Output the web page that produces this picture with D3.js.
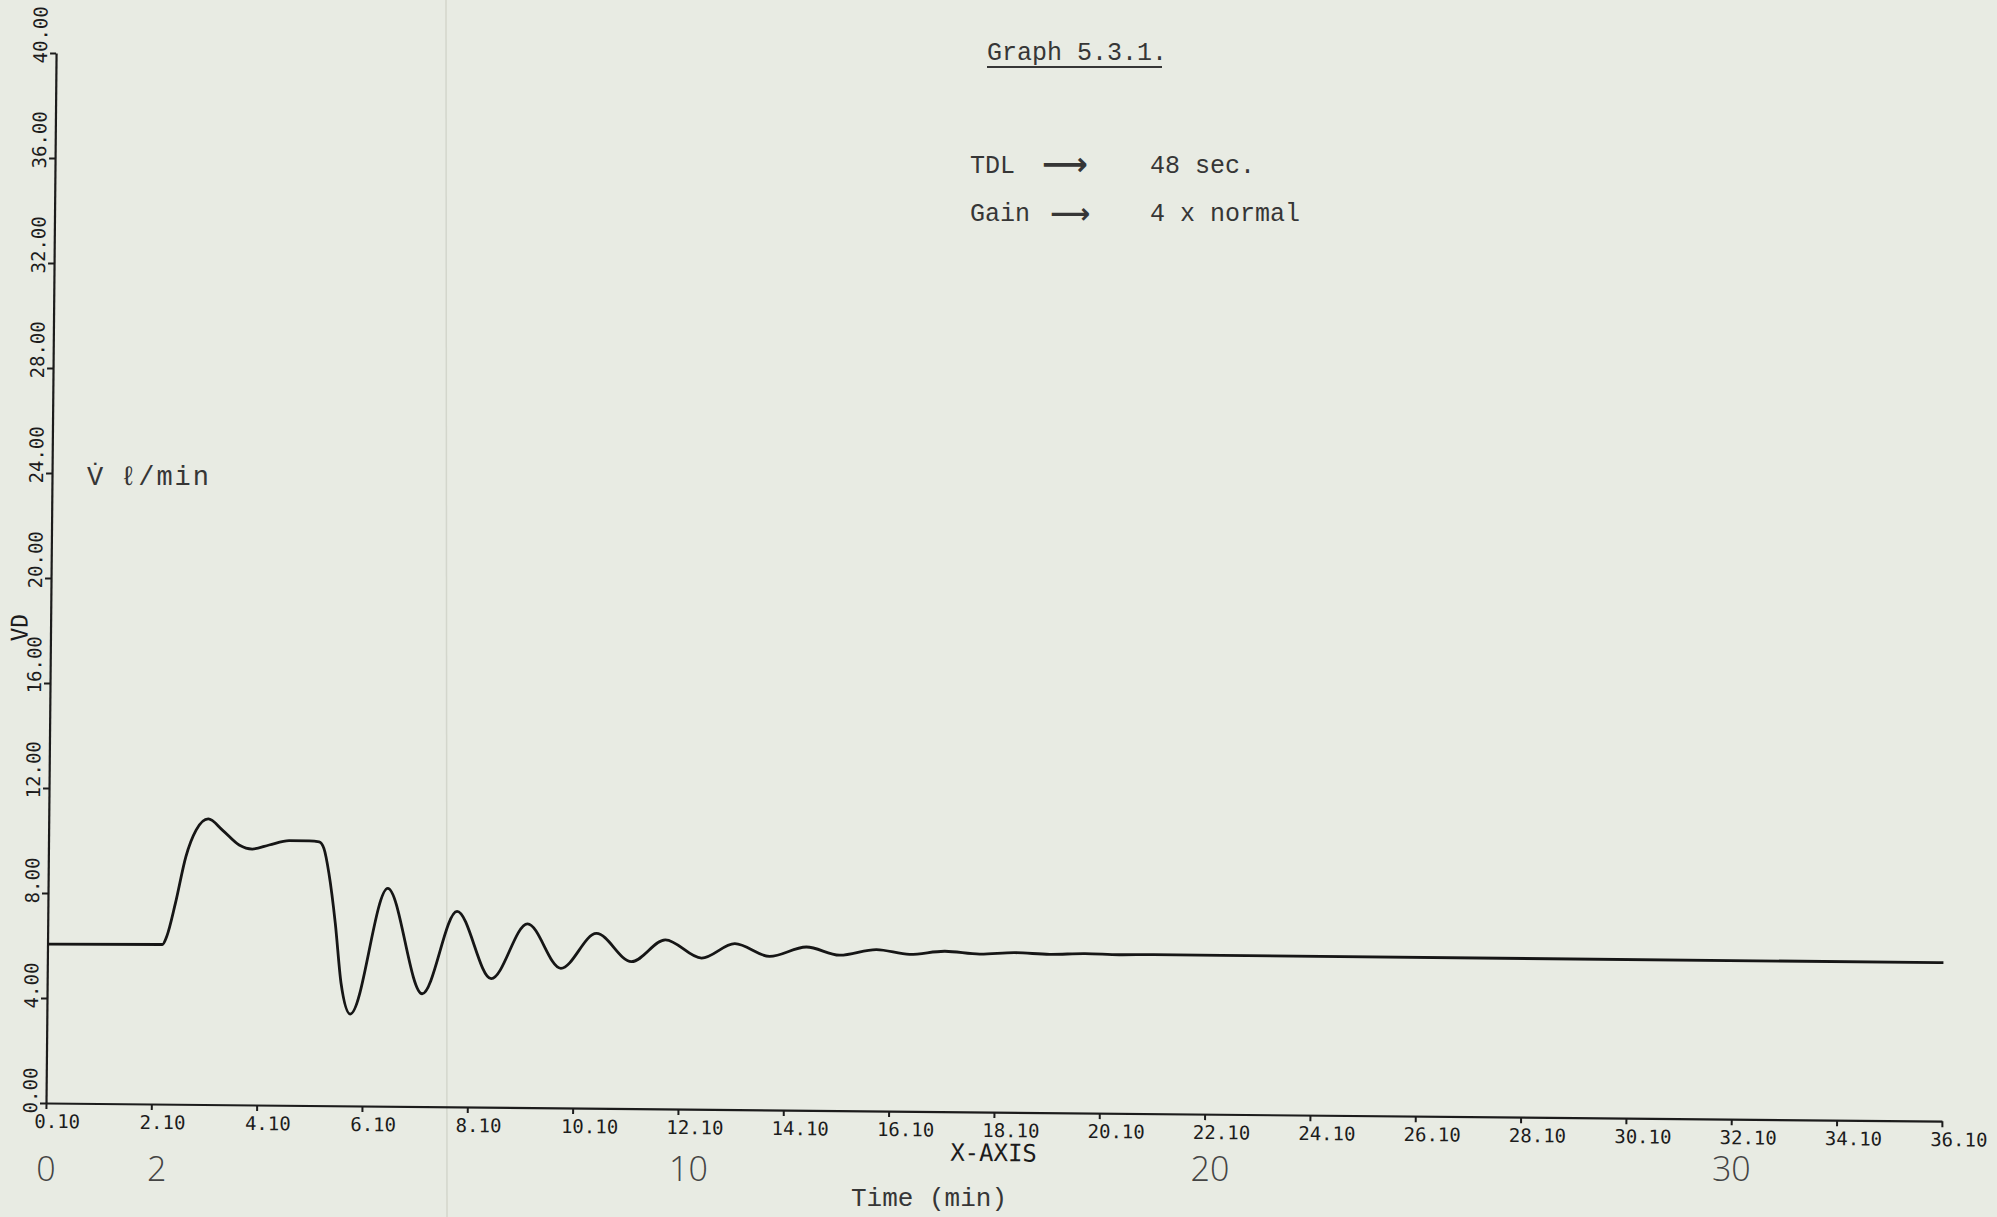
<!DOCTYPE html>
<html>
<head>
<meta charset="utf-8">
<style>
  body { margin: 0; background: #e8ebe3; }
  .typed { font-family: "Liberation Mono", "DejaVu Sans Mono", monospace; fill: #363636; }
  .hand { font-family: "Open Sans", sans-serif; font-weight: 300; fill: #444; }
</style>
</head>
<body>
<div id="chart"></div>
<script src="https://d3js.org/d3.v7.min.js"></script>
<script>
// Plotter trace: X-AXIS value (min) and VD (l/min)
var timeX = [0.1, 2.28, 2.36, 2.52, 2.71, 2.90, 3.13, 3.40, 3.72, 3.97, 4.29, 4.67, 5.05, 5.24,
  5.33, 5.43, 5.56, 5.68, 5.86, 6.55, 7.22, 7.87, 8.53, 9.21, 9.85, 10.52, 11.19, 11.83,
  12.52, 13.15, 13.81, 14.51, 15.14, 15.84, 16.47, 17.14, 17.80, 18.47, 19.13, 19.80, 20.45,
  21.10, 22.40, 36.10];
var vdValues = [6.05, 6.08, 6.38, 7.65, 9.43, 10.45, 10.88, 10.46, 9.90, 9.75, 9.91, 10.08, 10.08, 10.05,
  9.80, 8.85, 6.95, 4.67, 3.50, 8.30, 4.30, 7.45, 4.90, 7.00, 5.32, 6.66, 5.60, 6.44,
  5.76, 6.32, 5.85, 6.22, 5.92, 6.15, 5.98, 6.11, 6.01, 6.08, 6.03, 6.07, 6.04,
  6.06, 6.05, 6.04];

var xTicks = [0.1, 2.1, 4.1, 6.1, 8.1, 10.1, 12.1, 14.1, 16.1, 18.1, 20.1, 22.1, 24.1, 26.1,
  28.1, 30.1, 32.1, 34.1, 36.1];
var yTicks = [0, 4, 8, 12, 16, 20, 24, 28, 32, 36, 40];

// hand-written minute marks under the axis
var minuteLabels = ["0", "2", "10", "20", "30"];
var minuteAt = [0.1, 2.2, 12.3, 22.2, 32.1];

var svgWidth = 1997;
var svgHeight = 1217;

var margin = {
  top: 53,
  left: 46
};

var width = 1896;
var height = 1050;
var tilt = 0.55; // the plot sits a little crooked on the scanned page

var svg = d3.select("#chart")
  .append("svg")
  .attr("width", svgWidth)
  .attr("height", svgHeight);

svg.append("rect")
  .attr("width", svgWidth)
  .attr("height", svgHeight)
  .attr("fill", "#e8ebe3");

// paper crease
svg.append("line")
  .attr("x1", 446).attr("x2", 447)
  .attr("y1", 0).attr("y2", svgHeight)
  .attr("stroke", "#d3d6cc")
  .attr("stroke-width", 1.5);

var chartGroup = svg.append("g")
  .attr("transform", `rotate(${tilt}, ${margin.left}, ${margin.top + height}) translate(${margin.left}, ${margin.top})`)
  .style("color", "#1c1c1c");

// scales
var x = d3.scaleLinear().domain([0.1, 36.1]).range([0, width]);
var y = d3.scaleLinear().domain([0, 40]).range([height, 0]);

// axes
var bottomAxis = d3.axisBottom(x)
  .tickValues(xTicks)
  .tickFormat(d3.format(".2f"))
  .tickSize(6)
  .tickSizeOuter(0);

var leftAxis = d3.axisLeft(y)
  .tickValues(yTicks)
  .tickFormat(d3.format(".2f"))
  .tickSize(6)
  .tickSizeOuter(0);

var xAxisG = chartGroup.append("g")
  .attr("transform", `translate(0, ${height})`)
  .call(bottomAxis);

var yAxisG = chartGroup.append("g")
  .call(leftAxis);

[xAxisG, yAxisG].forEach(function(g) {
  g.attr("font-family", "'DejaVu Sans Mono', monospace").attr("font-size", 19);
  g.select(".domain").attr("stroke-width", 2.2);
  g.selectAll(".tick line").attr("stroke-width", 2);
});

xAxisG.selectAll(".tick text")
  .attr("x", -12)
  .attr("y", 25)
  .attr("dy", null)
  .attr("text-anchor", "start");

yAxisG.selectAll(".tick text")
  .attr("transform", "rotate(-90)")
  .attr("x", -10)
  .attr("y", -9)
  .attr("dy", null)
  .attr("text-anchor", "start");

// the trace
var line = d3.line()
  .x(d => x(d[0]))
  .y(d => y(d[1]))
  .curve(d3.curveMonotoneX);

chartGroup.append("path")
  .datum(d3.zip(timeX, vdValues))
  .attr("d", line)
  .attr("fill", "none")
  .attr("stroke", "#161616")
  .attr("stroke-width", 2.8)
  .attr("stroke-linejoin", "round");

// plotter axis titles
chartGroup.append("text")
  .attr("x", width / 2)
  .attr("y", height + 49)
  .attr("text-anchor", "middle")
  .attr("font-family", "'DejaVu Sans Mono', monospace")
  .attr("font-size", 24)
  .attr("fill", "#1c1c1c")
  .text("X-AXIS");

chartGroup.append("text")
  .attr("transform", "rotate(-90)")
  .attr("x", -y(18.1))
  .attr("y", -23)
  .attr("text-anchor", "middle")
  .attr("font-family", "'DejaVu Sans Mono', monospace")
  .attr("font-size", 23)
  .attr("fill", "#1c1c1c")
  .text("VD");

// hand-written minutes
svg.selectAll(".hand")
  .data(minuteLabels)
  .enter()
  .append("text")
  .attr("class", "hand")
  .attr("x", (d, i) => margin.left + x(minuteAt[i]))
  .attr("y", 1181)
  .attr("text-anchor", "middle")
  .attr("font-size", 34)
  .text(d => d);

// typed notes
svg.append("text")
  .attr("class", "typed")
  .attr("x", 851)
  .attr("y", 1206)
  .attr("font-size", 26)
  .text("Time (min)");

svg.append("text")
  .attr("class", "typed")
  .attr("x", 987)
  .attr("y", 60)
  .attr("font-size", 25)
  .text("Graph 5.3.1.");

svg.append("line")
  .attr("x1", 987).attr("x2", 1162)
  .attr("y1", 67).attr("y2", 67)
  .attr("stroke", "#363636")
  .attr("stroke-width", 2);

svg.append("text")
  .attr("class", "typed")
  .attr("x", 970)
  .attr("y", 173)
  .attr("font-size", 25)
  .text("TDL");

svg.append("text")
  .attr("class", "typed")
  .attr("x", 1150)
  .attr("y", 173)
  .attr("font-size", 25)
  .text("48 sec.");

svg.append("text")
  .attr("class", "typed")
  .attr("x", 970)
  .attr("y", 221)
  .attr("font-size", 25)
  .text("Gain");

svg.append("text")
  .attr("class", "typed")
  .attr("x", 1150)
  .attr("y", 221)
  .attr("font-size", 25)
  .text("4 x normal");

svg.append("text")
  .attr("x", 1042)
  .attr("y", 175)
  .attr("font-family", "'DejaVu Sans', sans-serif")
  .attr("font-size", 32)
  .attr("font-weight", "bold")
  .attr("fill", "#363636")
  .text("⟶");

svg.append("text")
  .attr("x", 1050)
  .attr("y", 223)
  .attr("font-family", "'DejaVu Sans', sans-serif")
  .attr("font-size", 28)
  .attr("font-weight", "bold")
  .attr("fill", "#363636")
  .text("⟶");

svg.append("text")
  .attr("class", "typed")
  .attr("x", 87)
  .attr("y", 485)
  .attr("font-size", 27)
  .text("V\u0307");

svg.append("text")
  .attr("class", "typed")
  .attr("x", 120)
  .attr("y", 485)
  .attr("font-size", 27)
  .attr("letter-spacing", 2)
  .text("ℓ/min");
</script>
</body>
</html>
